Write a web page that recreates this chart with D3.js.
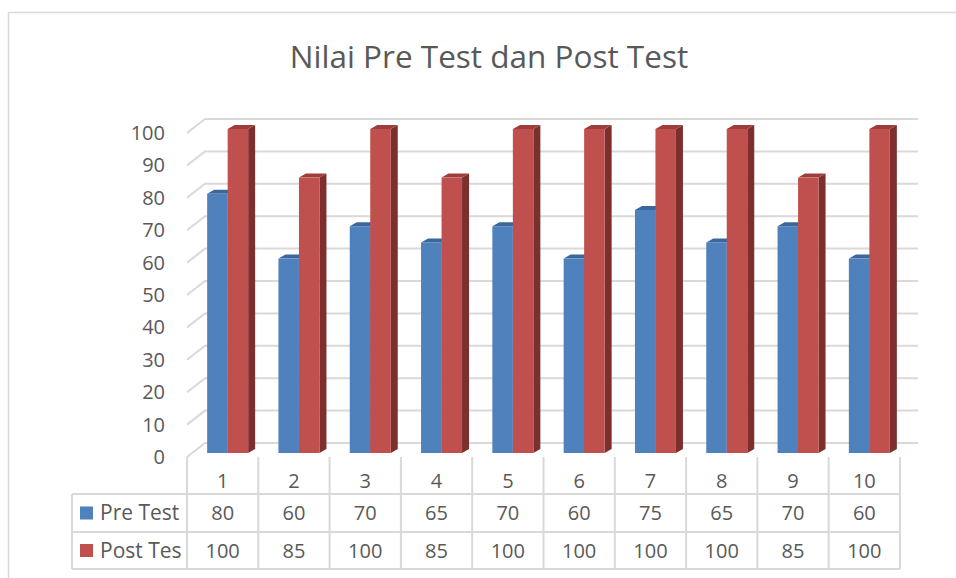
<!DOCTYPE html>
<html>
<head>
<meta charset="utf-8">
<script src="https://cdn.jsdelivr.net/npm/d3@7"></script>
<style>
  html, body { margin: 0; padding: 0; background: #fff; }
  svg { display: block; font-family: "Open Sans", sans-serif; }
</style>
</head>
<body>
<div id="chart"></div>
<script>
// chart data
const categories = ["1", "2", "3", "4", "5", "6", "7", "8", "9", "10"];
const preTest = [80, 60, 70, 65, 70, 60, 75, 65, 70, 60];
const postTest = [100, 85, 100, 85, 100, 100, 100, 100, 85, 100];
const seriesNames = ["Pre Test", "Post Tes"];
const yTicks = [0, 10, 20, 30, 40, 50, 60, 70, 80, 90, 100];

const W = 956, H = 578;
const grid = "#d9d9d9";
const textCol = "#595959";

// face colours per series: front, top, side
const faces = [
    { front: "#4f81bd", top: "#3c679c", side: "#355b8a" },
    { front: "#c0504d", top: "#9e3d3b", side: "#7d2f2d" }
];

// plot geometry (front plane of the 3D box)
const left = 187, right = 900;
const y0 = 457, y100 = 133;
const depth = { dx: 18, dy: -14 };      // back wall offset
const barOff = { dx: 5, dy: -4 };       // bars' front face offset
const barDepth = { dx: 7, dy: -4 };     // bar thickness

const svg = d3.select("#chart").append("svg")
    .attr("width", W).attr("height", H);

// outer chart frame (cut off on the right and bottom)
svg.append("rect")
    .attr("x", 8.5).attr("y", 12.5)
    .attr("width", W + 20).attr("height", H + 20)
    .attr("fill", "none").attr("stroke", grid).attr("stroke-width", 1.5);

svg.append("text")
    .attr("x", 489).attr("y", 68)
    .attr("text-anchor", "middle")
    .style("font-size", "31.5px").style("fill", textCol)
    .text("Nilai Pre Test dan Post Test");

const x = d3.scaleBand().domain(categories).range([left, right]);
const y = d3.scaleLinear().domain([0, 100]).range([y0, y100]);

// gridlines: slanted side + back wall line
const gl = svg.append("g").attr("stroke", grid).attr("stroke-width", 2).attr("fill", "none");
yTicks.forEach(t => {
    gl.append("path")
        .attr("d", `M${left},${y(t)} L${left + depth.dx},${y(t) + depth.dy} L${right + depth.dx},${y(t) + depth.dy}`);
});

// y axis labels
svg.append("g").selectAll("text").data(yTicks).join("text")
    .attr("x", 165).attr("y", d => y(d))
    .attr("dy", "0.35em").attr("text-anchor", "end")
    .style("font-size", "20px").style("fill", textCol)
    .text(d => d);

// bars
const inner = d3.scaleBand().domain([0, 1]).range([0, 41]);
const bars = svg.append("g");
categories.forEach((c, i) => {
    const vals = [preTest[i], postTest[i]];
    const x0 = x(c) + x.bandwidth() / 2 - 20.5 + barOff.dx;
    vals.forEach((v, s) => {
        const bx = x0 + inner(s), bw = inner.bandwidth();
        const top = y(v) + barOff.dy, bot = y(0) + barOff.dy;
        const dx = barDepth.dx, dy = barDepth.dy;
        const g = bars.append("g");
        g.append("path").attr("fill", faces[s].side)
            .attr("d", `M${bx + bw},${top} L${bx + bw + dx},${top + dy} L${bx + bw + dx},${bot + dy} L${bx + bw},${bot} Z`);
        g.append("path").attr("fill", faces[s].top)
            .attr("d", `M${bx},${top} L${bx + dx},${top + dy} L${bx + bw + dx},${top + dy} L${bx + bw},${top} Z`);
        g.append("rect").attr("fill", faces[s].front)
            .attr("x", bx).attr("y", top).attr("width", bw).attr("height", bot - top);
    });
});

// data table under the axis
const rowY = [457, 494, 532, 569];
const tableLeft = 72;
const tl = svg.append("g").attr("stroke", grid).attr("stroke-width", 2).attr("fill", "none");
[rowY[1], rowY[2], rowY[3]].forEach(ry => {
    tl.append("line").attr("x1", tableLeft).attr("x2", right).attr("y1", ry).attr("y2", ry);
});
tl.append("line").attr("x1", tableLeft).attr("x2", tableLeft).attr("y1", rowY[1]).attr("y2", rowY[3]);
categories.forEach(c => {
    tl.append("line").attr("x1", x(c)).attr("x2", x(c)).attr("y1", rowY[0]).attr("y2", rowY[3]);
});
tl.append("line").attr("x1", right).attr("x2", right).attr("y1", rowY[0]).attr("y2", rowY[3]);

const cellText = (cx, cy, t) => svg.append("text")
    .attr("x", cx).attr("y", cy).attr("dy", "0.35em").attr("text-anchor", "middle")
    .style("font-size", "20px").style("fill", textCol).text(t);

categories.forEach((c, i) => {
    const cx = x(c) + x.bandwidth() / 2;
    cellText(cx, (rowY[0] + rowY[1]) / 2 + 5, c);
    cellText(cx, (rowY[1] + rowY[2]) / 2, preTest[i]);
    cellText(cx, (rowY[2] + rowY[3]) / 2, postTest[i]);
});

seriesNames.forEach((n, s) => {
    const cy = (rowY[s + 1] + rowY[s + 2]) / 2;
    svg.append("rect").attr("x", 80).attr("y", cy - 6.5).attr("width", 13).attr("height", 13)
        .attr("fill", faces[s].front);
    svg.append("text").attr("x", 100).attr("y", cy).attr("dy", "0.35em")
        .style("font-size", "21px").style("fill", textCol).text(n);
});
</script>
</body>
</html>
